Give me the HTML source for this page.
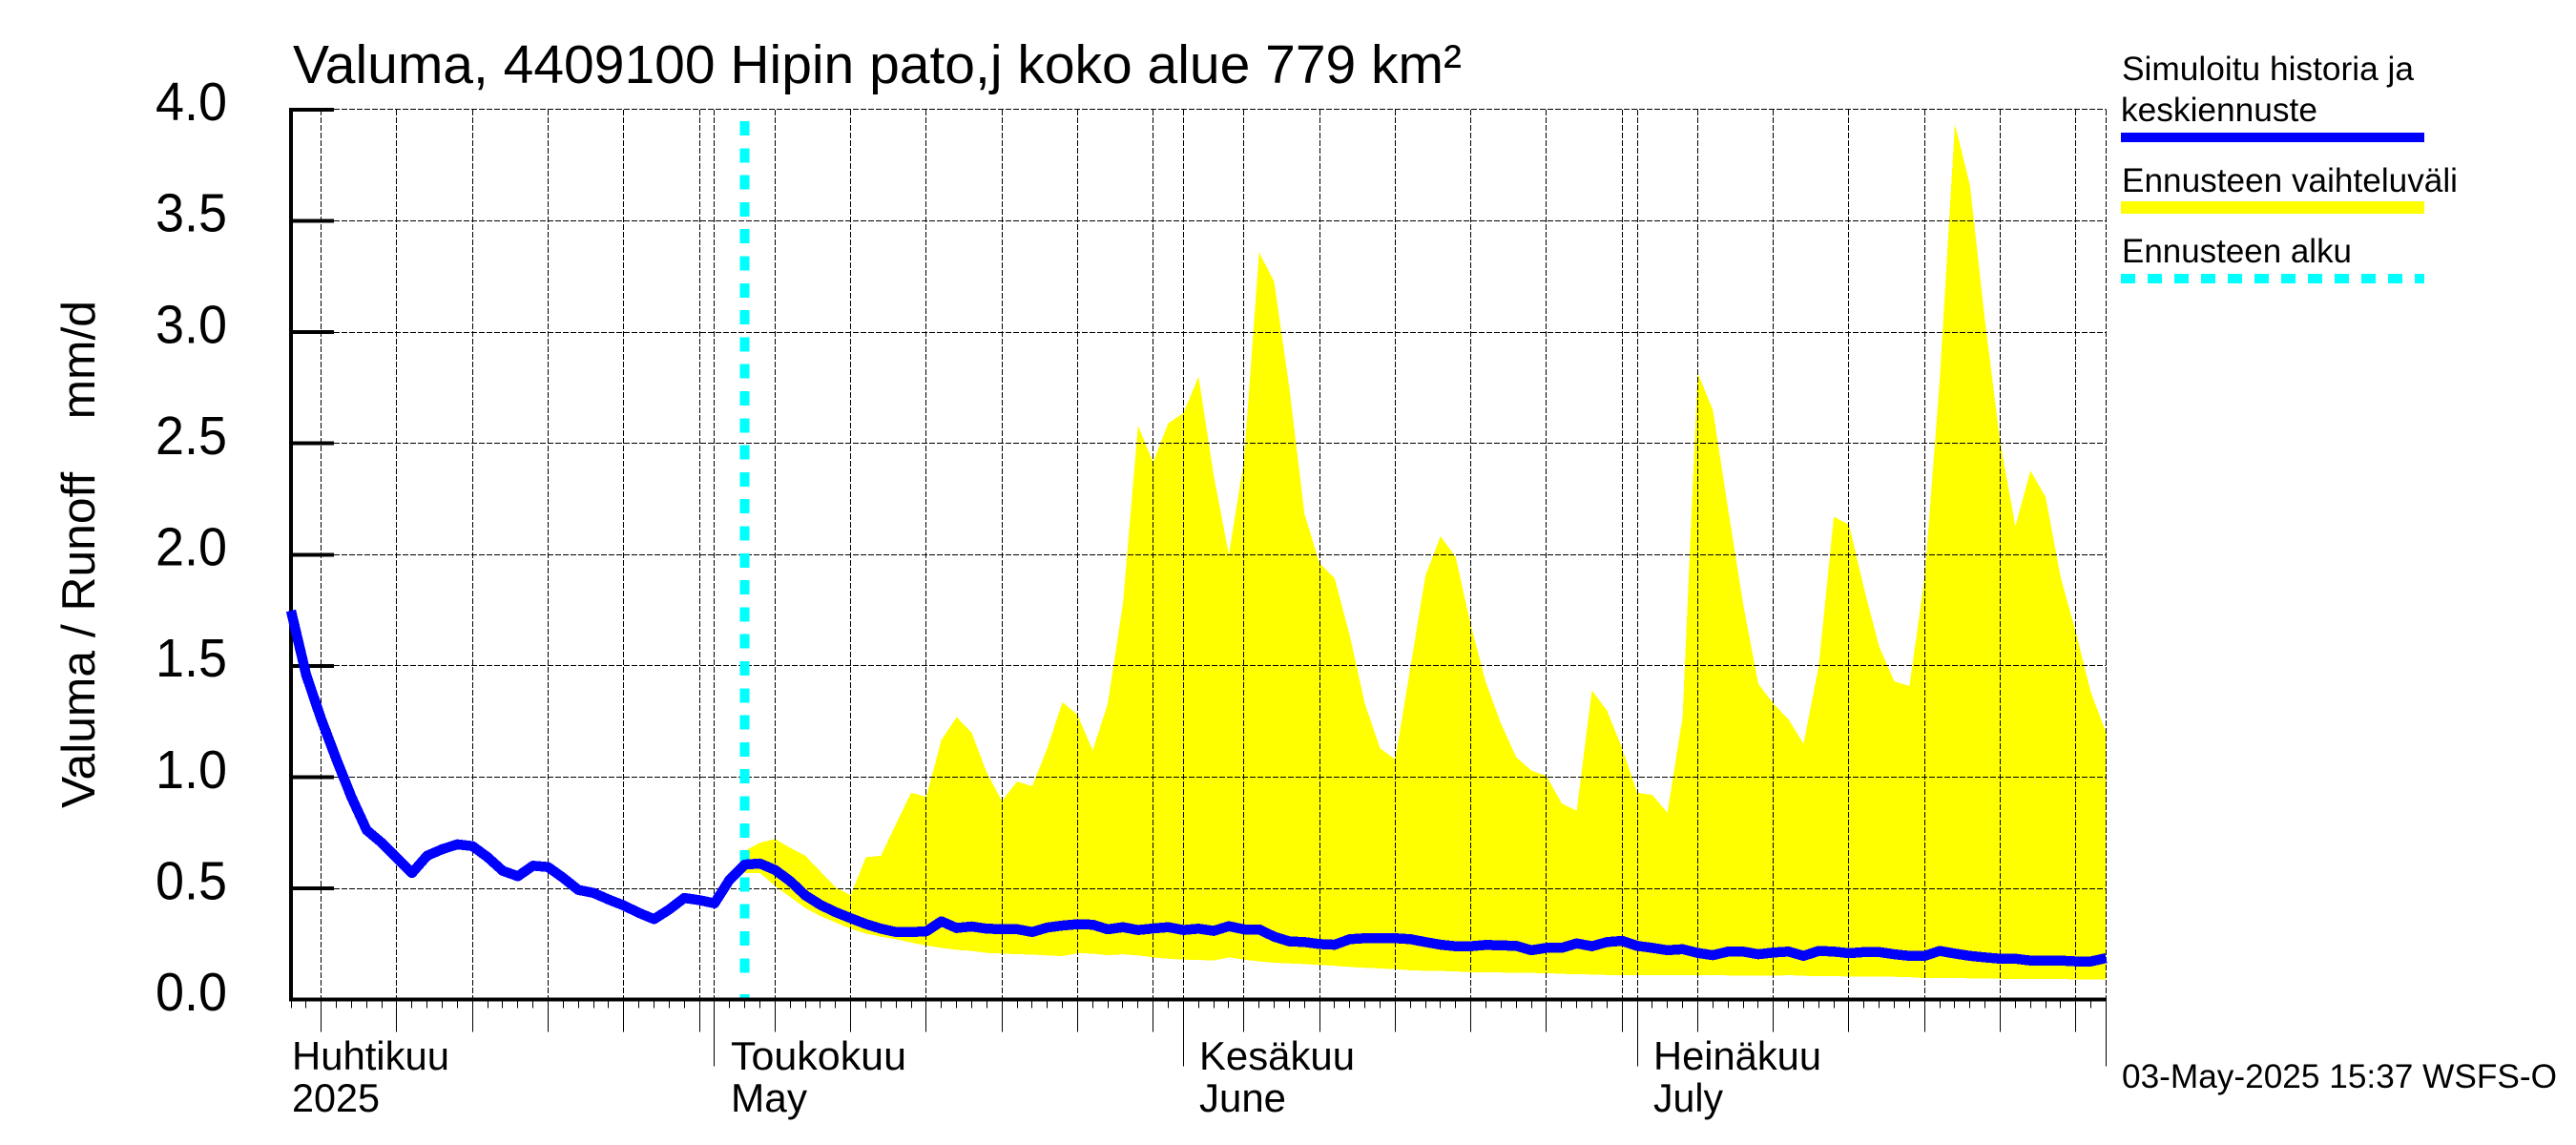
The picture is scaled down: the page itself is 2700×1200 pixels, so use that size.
<!DOCTYPE html>
<html lang="fi">
<head>
<meta charset="utf-8">
<title>Valuma 4409100 Hipin pato,j koko alue</title>
<style>
html,body{margin:0;padding:0;background:#fff;width:2700px;height:1200px;overflow:hidden}
svg{display:block}
text{font-family:"Liberation Sans",sans-serif;fill:#000}
</style>
</head>
<body>
<svg id="chart" xmlns="http://www.w3.org/2000/svg" width="2700" height="1200" viewBox="0 0 2700 1200">
  <rect x="0" y="0" width="2700" height="1200" fill="#fff"/>
  <g id="band-layer"></g>
  <g id="grid-layer"></g>
  <g id="cyan-layer"></g>
  <g id="line-layer"></g>
  <g id="axis-layer"></g>

  <text x="307" y="87" font-size="57" textLength="1225" lengthAdjust="spacingAndGlyphs">Valuma, 4409100 Hipin pato,j koko alue 779 km²</text>
  <text transform="translate(99,847) rotate(-90)" font-size="49" textLength="532" lengthAdjust="spacingAndGlyphs" xml:space="preserve" style="white-space:pre">Valuma / Runoff    mm/d</text>

  <text x="306" y="1121" font-size="42" textLength="165" lengthAdjust="spacingAndGlyphs">Huhtikuu</text>
  <text x="306" y="1165" font-size="42" textLength="92" lengthAdjust="spacingAndGlyphs">2025</text>
  <text x="766" y="1121" font-size="42" textLength="184" lengthAdjust="spacingAndGlyphs">Toukokuu</text>
  <text x="766" y="1165" font-size="42" textLength="80" lengthAdjust="spacingAndGlyphs">May</text>
  <text x="1257" y="1121" font-size="42" textLength="163" lengthAdjust="spacingAndGlyphs">Kesäkuu</text>
  <text x="1257" y="1165" font-size="42" textLength="91" lengthAdjust="spacingAndGlyphs">June</text>
  <text x="1733" y="1121" font-size="42" textLength="176" lengthAdjust="spacingAndGlyphs">Heinäkuu</text>
  <text x="1733" y="1165" font-size="42" textLength="73" lengthAdjust="spacingAndGlyphs">July</text>
  <text x="2224" y="1140" font-size="35" textLength="456" lengthAdjust="spacingAndGlyphs">03-May-2025 15:37 WSFS-O</text>

  <g>
    <text x="2224" y="84" font-size="35" textLength="306" lengthAdjust="spacingAndGlyphs">Simuloitu historia ja</text>
    <text x="2223" y="127" font-size="35" textLength="206" lengthAdjust="spacingAndGlyphs">keskiennuste</text>
    <rect x="2223" y="139" width="318" height="10" fill="#0000ff"/>
    <text x="2224" y="201" font-size="35" textLength="352" lengthAdjust="spacingAndGlyphs">Ennusteen vaihteluväli</text>
    <rect x="2223" y="211" width="318" height="13" fill="#ffff00"/>
    <text x="2224" y="275" font-size="35" textLength="241" lengthAdjust="spacingAndGlyphs">Ennusteen alku</text>
    <line x1="2223" y1="292" x2="2541" y2="292" stroke="#00ffff" stroke-width="10" stroke-dasharray="15 13" shape-rendering="crispEdges"/>
  </g>
</svg>
<script>
// Chart data: daily values starting 3 April 2025
var startYear = 2025;
var startMonth = 3;
var startDay = 3;
var dayCount = 120;
var yTicks = [0, 0.5, 1, 1.5, 2, 2.5, 3, 3.5, 4];
var yTickLabels = ["0.0", "0.5", "1.0", "1.5", "2.0", "2.5", "3.0", "3.5", "4.0"];
var forecastStartIndex = 30;
var simulated = [
1.748,1.46,1.26,1.08,0.91,0.762,0.705,0.637,0.569,0.647,
0.676,0.698,0.69,0.64,0.579,0.555,0.602,0.596,0.547,0.493,
0.48,0.45,0.423,0.39,0.362,0.405,0.457,0.447,0.433,0.54,
0.607,0.612,0.583,0.533,0.469,0.426,0.393,0.366,0.34,0.319,
0.304,0.304,0.307,0.352,0.322,0.329,0.319,0.317,0.317,0.304,
0.324,0.333,0.339,0.337,0.316,0.326,0.313,0.32,0.326,0.313,
0.319,0.309,0.33,0.316,0.316,0.283,0.262,0.259,0.25,0.247,
0.272,0.276,0.276,0.276,0.272,0.259,0.247,0.24,0.24,0.246,
0.244,0.242,0.222,0.233,0.233,0.253,0.24,0.259,0.264,0.242,
0.233,0.222,0.227,0.21,0.2,0.216,0.216,0.204,0.212,0.216,
0.197,0.219,0.216,0.209,0.214,0.214,0.204,0.197,0.197,0.219,
0.207,0.197,0.19,0.184,0.184,0.176,0.176,0.176,0.172,0.172,0.187
];
var rangeUpper = [
0.669,0.705,0.722,0.683,0.647,0.576,0.505,0.469,0.64,0.647,
0.79,0.93,0.912,1.167,1.27,1.2,1.02,0.893,0.98,0.96,
1.13,1.337,1.28,1.12,1.33,1.78,2.58,2.415,2.59,2.636,
2.8,2.357,2.0,2.42,3.358,3.227,2.75,2.185,1.96,1.894,
1.635,1.33,1.13,1.08,1.49,1.906,2.083,1.988,1.684,1.425,
1.24,1.09,1.03,1.005,0.883,0.848,1.39,1.3,1.13,0.93,
0.92,0.84,1.27,2.817,2.65,2.21,1.78,1.42,1.33,1.26,
1.15,1.5,2.17,2.135,1.848,1.586,1.43,1.41,1.897,2.784,
3.936,3.66,3.046,2.505,2.127,2.377,2.259,1.898,1.651,1.38,1.2
];
var rangeLower = [
0.569,0.569,0.512,0.462,0.412,0.376,0.347,0.319,0.297,0.283,
0.272,0.257,0.243,0.233,0.224,0.219,0.21,0.207,0.204,0.203,
0.199,0.196,0.209,0.207,0.2,0.204,0.199,0.19,0.184,0.18,
0.179,0.176,0.19,0.18,0.172,0.166,0.163,0.16,0.156,0.152,
0.147,0.143,0.14,0.137,0.132,0.13,0.129,0.127,0.124,0.123,
0.122,0.12,0.12,0.119,0.116,0.114,0.113,0.111,0.111,0.111,
0.111,0.111,0.111,0.109,0.111,0.109,0.109,0.107,0.107,0.11,
0.107,0.106,0.106,0.104,0.103,0.103,0.103,0.101,0.097,0.097,
0.097,0.096,0.096,0.094,0.093,0.093,0.093,0.093,0.091,0.09,0.09
];

var plotLeft = 305, plotRight = 2207.5, plotTop = 114.8, plotBottom = 1047.7;
var SVG_NS = "http://www.w3.org/2000/svg";
function xAt(i) { return plotLeft + (plotRight - plotLeft) * i / dayCount; }
function yAt(v) { return plotBottom - (plotBottom - plotTop) * v / 4; }
function snap(p) { return Math.floor(p) + 0.5; }
function make(tag, attrs, parent) {
  var el = document.createElementNS(SVG_NS, tag);
  for (var k in attrs) { el.setAttribute(k, attrs[k]); }
  parent.appendChild(el);
  return el;
}
var bandLayer = document.getElementById("band-layer");
var gridLayer = document.getElementById("grid-layer");
var cyanLayer = document.getElementById("cyan-layer");
var lineLayer = document.getElementById("line-layer");
var axisLayer = document.getElementById("axis-layer");

// forecast range band
var bandPts = [];
for (var u = 0; u < rangeUpper.length; u++) {
  bandPts.push(xAt(forecastStartIndex + u).toFixed(1) + "," + yAt(rangeUpper[u]).toFixed(1));
}
for (var l = rangeLower.length - 1; l >= 0; l--) {
  bandPts.push(xAt(forecastStartIndex + l).toFixed(1) + "," + yAt(rangeLower[l]).toFixed(1));
}
var band = make("polygon", {points: bandPts.join(" "), fill: "#ffff00", "shape-rendering": "crispEdges"}, bandLayer);



// horizontal grid and y ticks
for (var t = 0; t < yTicks.length; t++) {
  var gy = yAt(yTicks[t]);
  var sy = snap(gy);
  if (yTicks[t] > 0) {
    var hg = make("line", {x1: 350, y1: sy, x2: plotRight, y2: sy, stroke: "#000", "stroke-width": 1, "stroke-dasharray": "6 2", "shape-rendering": "crispEdges"}, gridLayer);
    
    
  }
  var yt = make("line", {x1: 303, y1: gy, x2: 350, y2: gy, stroke: "#000", "stroke-width": 4, "shape-rendering": "crispEdges"}, axisLayer);
  
  
  var yl = make("text", {x: 238, y: gy + 11.3, "font-size": 57, "text-anchor": "end", textLength: 75, lengthAdjust: "spacingAndGlyphs"}, axisLayer);
  
  
  yl.textContent = yTickLabels[t];
}

// daily x ticks and vertical grid
for (var i = 0; i <= dayCount; i++) {
  var dt = new Date(startYear, startMonth, startDay + i);
  var dom = dt.getDate();
  var isMonth = dom === 1;
  var isFive = dom % 5 === 0;
  var vx = snap(xAt(i));
  var tickEnd = isMonth ? 1117.7 : (isFive ? 1081.7 : 1056.7);
  var xt = make("line", {x1: vx, y1: plotBottom, x2: vx, y2: tickEnd, stroke: "#000", "stroke-width": 1, "shape-rendering": "crispEdges"}, axisLayer);
  
  
  if (isMonth || isFive) {
    var vg = make("line", {x1: vx, y1: plotTop, x2: vx, y2: plotBottom, stroke: "#000", "stroke-width": 1, "stroke-dasharray": "6 2", "shape-rendering": "crispEdges"}, gridLayer);
    
    
  }
}

// forecast start marker
var fx = xAt(forecastStartIndex);
var fs1 = make("line", {x1: fx, y1: 127, x2: fx, y2: 1020, stroke: "#00ffff", "stroke-width": 10, "stroke-dasharray": "15 13.3", "shape-rendering": "crispEdges"}, cyanLayer);


var fs2 = make("line", {x1: fx, y1: 1042, x2: fx, y2: 1047, stroke: "#00ffff", "stroke-width": 10, "shape-rendering": "crispEdges"}, cyanLayer);



// simulated line
var simPts = [];
for (var s = 0; s < simulated.length; s++) {
  simPts.push(xAt(s).toFixed(1) + "," + yAt(simulated[s]).toFixed(1));
}
var simLine = make("polyline", {points: simPts.join(" "), fill: "none", stroke: "#0000ff", "stroke-width": 10.5, "stroke-linejoin": "round", "shape-rendering": "crispEdges"}, lineLayer);



// axes
var axY = make("line", {x1: plotLeft, y1: 112.8, x2: plotLeft, y2: 1049.7, stroke: "#000", "stroke-width": 4.4, "shape-rendering": "crispEdges"}, axisLayer);


var axX = make("line", {x1: 303, y1: plotBottom, x2: plotRight, y2: plotBottom, stroke: "#000", "stroke-width": 4, "shape-rendering": "crispEdges"}, axisLayer);



// blue line sits over the axis, as in the original plot
lineLayer.parentNode.appendChild(lineLayer);
</script>
</body>
</html>
